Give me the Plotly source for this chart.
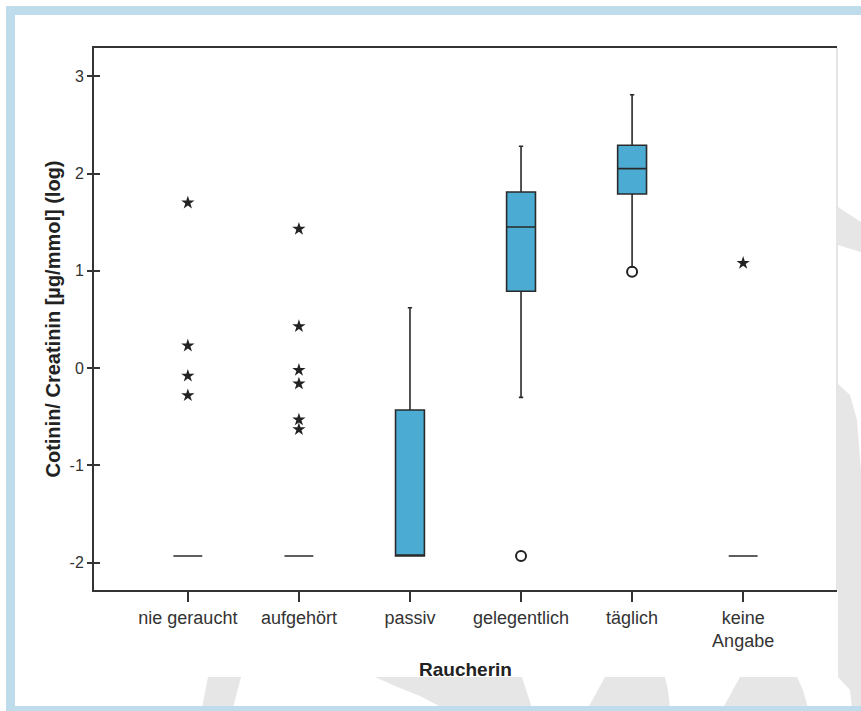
import plotly.graph_objects as go

# ---------------- data ----------------
categories = ["nie geraucht", "aufgehört", "passiv", "gelegentlich", "täglich", "keine Angabe"]
tick_labels = ["nie geraucht", "aufgehört", "passiv", "gelegentlich", "täglich", "keine<br>Angabe"]
q1_vals = [-1.93, -1.93, -1.93, 0.79, 1.79, -1.93]
median_vals = [-1.93, -1.93, -1.93, 1.45, 2.05, -1.93]
q3_vals = [-1.93, -1.93, -0.43, 1.81, 2.29, -1.93]
lower_whisker = [-1.93, -1.93, -1.93, -0.30, 1.04, -1.93]
upper_whisker = [-1.93, -1.93, 0.62, 2.28, 2.81, -1.93]

# extreme values (stars)
extreme_cat = ["nie geraucht"] * 4 + ["aufgehört"] * 6 + ["keine Angabe"]
extreme_val = [1.70, 0.23, -0.08, -0.28, 1.43, 0.43, -0.02, -0.16, -0.53, -0.63, 1.08]
# outliers (circles)
outlier_cat = ["gelegentlich", "täglich"]
outlier_val = [-1.93, 0.99]

y_ticks = [-2, -1, 0, 1, 2, 3]
y_tick_labels = ["-2", "-1", "0", "1", "2", "3"]

# ---------------- layout geometry ----------------
W, H = 861, 711
L, R, T, B = 94, 837, 48, 590
BOX_COLOR = "#4babd3"
LINE_COLOR = "#2a2a2a"

fig = go.Figure()
idx = {c: i for i, c in enumerate(categories)}

for i, c in enumerate(categories):
    fig.add_trace(go.Box(
        x=[i], q1=[q1_vals[i]], median=[median_vals[i]], q3=[q3_vals[i]],
        lowerfence=[lower_whisker[i]], upperfence=[upper_whisker[i]],
        width=0.26, whiskerwidth=0.15,
        fillcolor=BOX_COLOR if q3_vals[i] > q1_vals[i] else "rgba(0,0,0,0)",
        line=dict(color=LINE_COLOR, width=1.6),
        boxpoints=False, showlegend=False, hoverinfo="skip",
    ))

fig.add_trace(go.Scatter(
    x=[idx[c] for c in extreme_cat], y=extreme_val, mode="markers",
    marker=dict(symbol="star", size=10, color="#222222", line=dict(width=0)),
    showlegend=False, hoverinfo="skip",
))
fig.add_trace(go.Scatter(
    x=[idx[c] for c in outlier_cat], y=outlier_val, mode="markers",
    marker=dict(symbol="circle-open", size=10, color="#222222", line=dict(width=2)),
    showlegend=False, hoverinfo="skip",
))


def px(x):
    return (x - L) / (R - L)


def py(y):
    return (B - y) / (B - T)


def path(points):
    s = "M " + " L ".join(f"{px(a):.5f},{py(b):.5f}" for a, b in points) + " Z"
    return s


WM = "#e6e6e6"
watermark = [
    [(208, 677), (241, 677), (233, 708), (202, 708)],
    [(375, 677), (522, 677), (532, 708), (443, 708), (420, 696), (395, 686)],
    [(605, 677), (665, 677), (668, 690), (670, 708), (588, 708)],
    [(740, 677), (797, 677), (803, 690), (808, 708), (723, 708)],
    [(838, 207), (861, 222), (861, 252), (838, 245)],
    [(838, 384), (850, 395), (857, 420), (861, 470), (861, 708), (852, 708), (855, 677), (838, 677)],
    [(838, 600), (861, 600), (861, 708), (852, 708), (850, 690), (838, 677)],
]
shapes = []
for poly in watermark:
    shapes.append(dict(type="path", xref="paper", yref="paper", path=path(poly),
                       fillcolor=WM, line=dict(width=0), layer="below"))

FRAME = "#bedcec"
for (x0, y0, x1, y1) in [(6, 6, 861, 15), (6, 6, 15, 711), (6, 706, 861, 711)]:
    shapes.append(dict(type="rect", xref="paper", yref="paper",
                       x0=px(x0), x1=px(x1), y0=py(y1), y1=py(y0),
                       fillcolor=FRAME, line=dict(width=0), layer="below"))
# light right edge of chart area
shapes.append(dict(type="line", xref="paper", yref="paper", x0=1, x1=1, y0=0, y1=1,
                   line=dict(color="#dcdcdc", width=1.5), layer="below"))

fig.update_layout(
    width=W, height=H,
    margin=dict(l=L, r=W - R, t=T, b=H - B, autoexpand=False),
    paper_bgcolor="white", plot_bgcolor="white",
    font=dict(family="Liberation Sans, Arial, sans-serif", color="#222222"),
    shapes=shapes,
    xaxis=dict(
        range=[-0.845, 5.845], tickmode="array", tickvals=list(range(len(categories))),
        ticktext=tick_labels, showgrid=False, zeroline=False, automargin=False,
        showline=True, linecolor="#333333", linewidth=2, mirror=True,
        ticks="outside", ticklen=10, tickwidth=2, tickcolor="#333333",
        tickfont=dict(size=18, color="#333333"),
        title=dict(text="<b>Raucherin</b>", font=dict(size=19, color="#222222"), standoff=13),
    ),
    yaxis=dict(
        range=[-2.28, 3.29], tickmode="array", tickvals=y_ticks, ticktext=y_tick_labels,
        showgrid=False, zeroline=False, automargin=False,
        showline=True, linecolor="#333333", linewidth=2,
        ticks="outside", ticklen=5, tickwidth=2, tickcolor="#333333",
        tickfont=dict(size=16, color="#333333"),
        title=dict(text="<b>Cotinin/ Creatinin [µg/mmol] (log)</b>",
                   font=dict(size=20, color="#222222"), standoff=4),
    ),
    yaxis2=dict(
        overlaying="y", matches="y", side="left", tickmode="array", tickvals=y_ticks,
        showgrid=False, zeroline=False, showline=False, showticklabels=False, automargin=False,
        ticks="inside", ticklen=6, tickwidth=2, tickcolor="#333333",
    ),
)
# invisible trace to activate yaxis2 (cross-style tick marks)
fig.add_trace(go.Scatter(x=[None], y=[None], yaxis="y2", showlegend=False, hoverinfo="skip"))

fig.write_html(
    "out.html",
    config={"displayModeBar": False, "responsive": False},
    post_script="document.body.style.margin='0';document.body.style.overflow='hidden';",
)
